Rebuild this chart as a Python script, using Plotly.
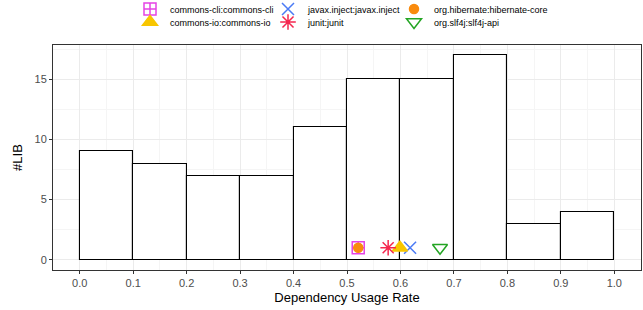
import plotly.graph_objects as go

# Histogram bins (left edges) and counts
bin_left = [0.0, 0.1, 0.2, 0.3, 0.4, 0.5, 0.6, 0.7, 0.8, 0.9]
bin_counts = [9, 8, 7, 7, 11, 15, 15, 17, 3, 4]
bin_width = 0.1

# Highlighted libraries (name, usage rate, y position)
lib_names = ["commons-cli:commons-cli", "javax.inject:javax.inject", "org.hibernate:hibernate-core",
             "commons-io:commons-io", "junit:junit", "org.slf4j:slf4j-api"]
lib_rates = [0.521, 0.618, 0.521, 0.599, 0.577, 0.674]
lib_y = [1, 1, 1, 1, 1, 1]
lib_symbols = ["square-cross-open", "x-thin-open", "circle", "triangle-up", "asterisk-open", "triangle-down-open"]
lib_colors = ["#E543E5", "#4B7BF5", "#F98B0E", "#F8C600", "#F5274F", "#24A524"]
lib_sizes = [12, 12, 9, 13, 13, 13]

x_ticks = [0.0, 0.1, 0.2, 0.3, 0.4, 0.5, 0.6, 0.7, 0.8, 0.9, 1.0]
y_ticks = [0, 5, 10, 15]

fig = go.Figure()
fig.add_trace(go.Bar(
    x=[b + bin_width / 2 for b in bin_left], y=bin_counts, width=bin_width,
    marker=dict(color="white", line=dict(color="black", width=1.1)),
    showlegend=False, hoverinfo="skip"))

# legend placement: column symbol centers (px) and row centres
L, W = 53, 588
B, H = 270, 225
sym_px = [151, 289, 415, 151, 289, 415]
row_py = [9, 9, 9, 22, 22, 22]
legend_ids = ["legend", "legend2", "legend3", "legend4", "legend5", "legend6"]

layout_legends = {}
for i in range(6):
    fig.add_trace(go.Scatter(
        x=[lib_rates[i]], y=[lib_y[i]], mode="markers", name=lib_names[i],
        marker=dict(symbol=lib_symbols[i], color=lib_colors[i], size=lib_sizes[i],
                    line=dict(color=lib_colors[i], width=1.5)),
        legend=legend_ids[i]))
    layout_legends[legend_ids[i]] = dict(
        x=(sym_px[i] - 21 - L) / W, xanchor="left",
        y=(B - row_py[i]) / H, yanchor="middle",
        bgcolor="rgba(0,0,0,0)", borderwidth=0,
        font=dict(size=9, color="black", family="Liberation Sans, Arial, sans-serif"),
        itemsizing="trace")

fig.update_layout(
    width=643, height=310,
    margin=dict(l=53, r=2, t=45, b=40, autoexpand=False),
    paper_bgcolor="white", plot_bgcolor="white",
    font=dict(family="Liberation Sans, Arial, sans-serif"),
    bargap=0,
    **layout_legends,
)
fig.update_xaxes(
    range=[-0.05, 1.05], tickvals=x_ticks, tickformat=".1f",
    showgrid=True, gridcolor="#EBEBEB", gridwidth=1,
    minor=dict(dtick=0.05, tick0=0, showgrid=True, gridcolor="#F5F5F5", gridwidth=0.6),
    showline=True, mirror=True, linecolor="#333333", linewidth=1,
    ticks="outside", ticklen=3, tickcolor="#333333",
    tickfont=dict(size=11, color="#4D4D4D"),
    zeroline=False,
    title=dict(text="Dependency Usage Rate", font=dict(size=13, color="black"), standoff=4))
fig.update_yaxes(
    range=[-0.85, 17.85], tickvals=y_ticks,
    showgrid=True, gridcolor="#EBEBEB", gridwidth=1,
    minor=dict(dtick=2.5, tick0=0, showgrid=True, gridcolor="#F5F5F5", gridwidth=0.6),
    showline=True, mirror=True, linecolor="#333333", linewidth=1,
    ticks="outside", ticklen=3, tickcolor="#333333",
    tickfont=dict(size=11, color="#4D4D4D"),
    zeroline=False,
    title=dict(text="#LIB", font=dict(size=13, color="black"), standoff=8))

fig.write_html("out.html", config={"displayModeBar": False},
               post_script="document.body.style.margin='0';")
